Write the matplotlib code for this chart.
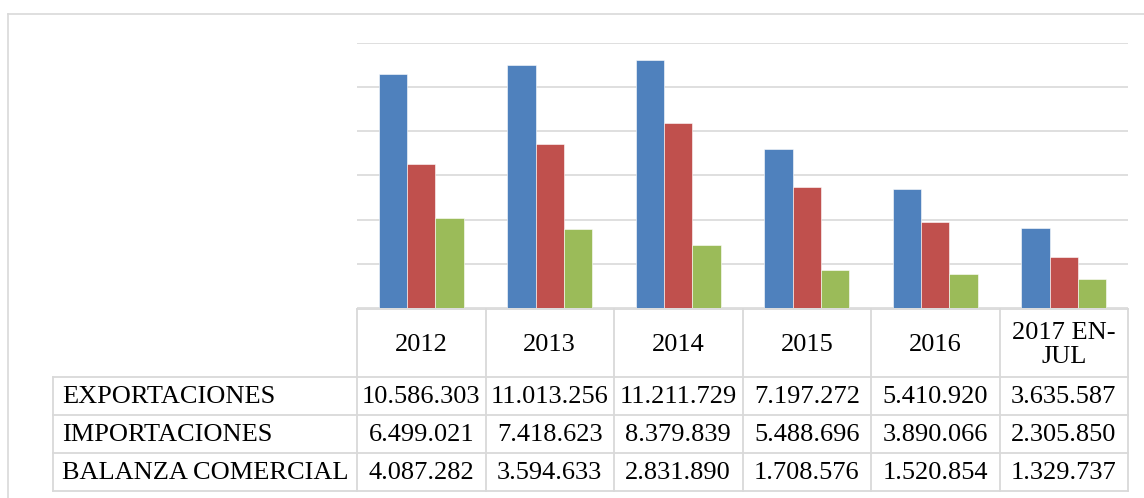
import matplotlib.pyplot as plt
import numpy as np

years = ['2012', '2013', '2014', '2015', '2016', '2017 EN-\nJUL']
series_names = ['EXPORTACIONES', 'IMPORTACIONES', 'BALANZA COMERCIAL']
exportaciones = [10586303, 11013256, 11211729, 7197272, 5410920, 3635587]
importaciones = [6499021, 7418623, 8379839, 5488696, 3890066, 2305850]
balanza = [4087282, 3594633, 2831890, 1708576, 1520854, 1329737]

colors = ['#4F81BD', '#C0504D', '#9BBB59']
grid_col = '#D9D9D9'

W, H = 1144, 498
plt.rcParams['font.family'] = ['Liberation Serif', 'DejaVu Serif']

fig = plt.figure(figsize=(W / 100, H / 100), dpi=100)

# pixel layout
x0, x1 = 357, 1128      # plot / table columns
y_top, y_base = 43, 308  # plot area
lab_x = 53              # left edge of row-label column
row_y = [309, 377, 415, 453, 491]

# background overlay for borders and table (pixel coordinates)
bg = fig.add_axes([0, 0, 1, 1])
bg.set_xlim(0, W)
bg.set_ylim(H, 0)
bg.axis('off')

# outer chart border (top and left visible)
bg.plot([8, W + 5], [14, 14], color=grid_col, lw=1.2)
bg.plot([8, 8], [14, H + 5], color=grid_col, lw=1.2)

# bars
ax = fig.add_axes([x0 / W, (H - y_base) / H, (x1 - x0) / W, (y_base - y_top) / H])
x = np.arange(len(years))
bw = 0.221
for i, vals in enumerate([exportaciones, importaciones, balanza]):
    ax.bar(x + (i - 1) * bw, vals, bw, color=colors[i], edgecolor='white',
           linewidth=0.4, zorder=3)
ax.set_xlim(-0.5, len(years) - 0.5)
ax.set_ylim(0, 12000000)
ax.set_yticks(np.arange(0, 12000001, 2000000))
ax.yaxis.grid(True, color=grid_col, lw=1.2)
ax.set_axisbelow(True)
ax.tick_params(left=False, bottom=False, labelleft=False, labelbottom=False)
for s in ax.spines.values():
    s.set_visible(False)

# data table
col_w = (x1 - x0) / len(years)
lc = dict(color=grid_col, lw=1.3)
for k in range(len(years) + 1):
    xx = x0 + k * col_w
    bg.plot([xx, xx], [row_y[0], row_y[-1]], **lc)
bg.plot([lab_x, lab_x], [row_y[1], row_y[-1]], **lc)
bg.plot([x0, x1], [row_y[0], row_y[0]], **lc)
for yy in row_y[1:]:
    bg.plot([lab_x, x1], [yy, yy], **lc)

fs = 19
for k, yr in enumerate(years):
    bg.text(x0 + (k + 0.5) * col_w, (row_y[0] + row_y[1]) / 2 + 2, yr,
            ha='center', va='center', fontsize=fs, linespacing=1.1)

for r, (name, vals) in enumerate(zip(series_names, [exportaciones, importaciones, balanza])):
    cy = (row_y[r + 1] + row_y[r + 2]) / 2 + 1
    bg.text(lab_x + 9, cy, name, ha='left', va='center', fontsize=fs)
    for k, v in enumerate(vals):
        s = f'{v:,}'.replace(',', '.')
        bg.text(x0 + (k + 0.5) * col_w, cy, s, ha='center', va='center', fontsize=fs)

fig.savefig('out.png', dpi=100)
